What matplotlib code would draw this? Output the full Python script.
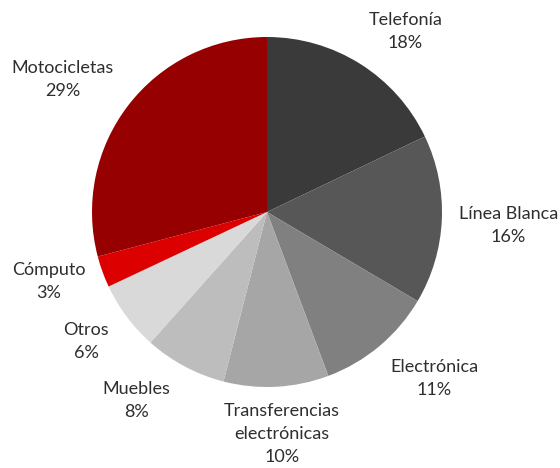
import numpy as np
import matplotlib
matplotlib.use("Agg")
import matplotlib.pyplot as plt

categories = ["Telefonía", "Línea Blanca", "Electrónica", "Transferencias\nelectrónicas",
              "Muebles", "Otros", "Cómputo", "Motocicletas"]
values = [17.9, 15.6, 10.8, 9.7, 7.6, 6.4, 2.9, 29.1]
colors = ["#3a3a3a", "#575757", "#808080", "#a6a6a6", "#bdbdbd", "#d9d9d9", "#dd0000", "#960000"]
label_dist = [1.30, 1.38, 1.35, 1.27, 1.31, 1.27, 1.31, 1.39]
label_shift = [-5.3, -0.6, 5.2, 0.8, -6.6, -1.2, -2.3, 4.7]

W, H = 560, 468
fig = plt.figure(figsize=(W / 100, H / 100), dpi=100)
ax = fig.add_axes([0, 0, 1, 1])

cx, cy, R = 267, H - 212, 175
wedges, _ = ax.pie(values, colors=colors, startangle=90, counterclock=False,
                   center=(cx, cy), radius=R, frame=True,
                   wedgeprops=dict(linewidth=0))
ax.set_xlim(0, W)
ax.set_ylim(0, H)
ax.set_aspect("equal")
ax.axis("off")

for w, name, v, d, s in zip(wedges, categories, values, label_dist, label_shift):
    mid = np.deg2rad((w.theta1 + w.theta2) / 2 + s)
    x = cx + d * R * np.cos(mid)
    y = cy + d * R * np.sin(mid)
    ax.text(x, y, f"{name}\n{round(v)}%", ha="center", va="center",
            fontsize=13, family=["Lato", "DejaVu Sans"], fontweight="normal",
            color="#2e2e2e", linespacing=1.55)

fig.savefig("out.png", dpi=100)
